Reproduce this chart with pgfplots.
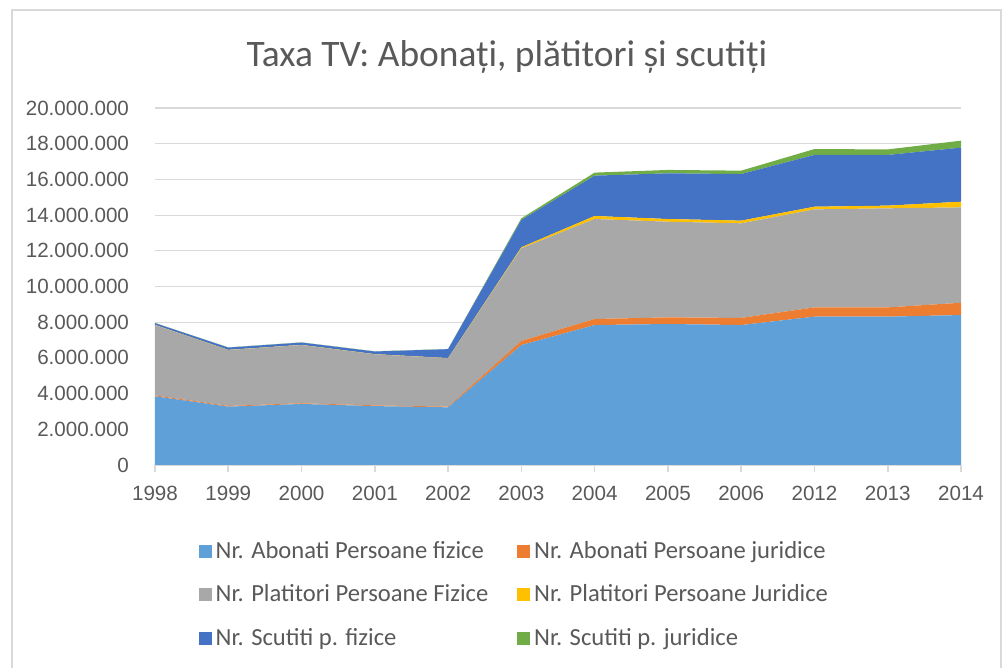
\documentclass[border=0pt]{standalone}
\usepackage{pgfplots}
\pgfplotsset{compat=1.18}
\usepackage{pgfplotstable}
\usepackage{fontspec}
\setmainfont{Carlito}
\newfontfamily\tickfont{Liberation Sans}
\definecolor{cAF}{HTML}{5FA0D8}
\definecolor{cAJ}{HTML}{ED7D31}
\definecolor{cPF}{HTML}{A8A8A8}
\definecolor{cPJ}{HTML}{FFC000}
\definecolor{cSF}{HTML}{4472C4}
\definecolor{cSJ}{HTML}{70AD47}
\definecolor{txt}{HTML}{595959}
\definecolor{gridc}{HTML}{D9D9D9}
\pgfplotstableread{
x AbF AbJ PlF PlJ ScF ScJ
0 3850000 50000 3940000 10000 100000 10000
1 3270000 40000 3130000 10000 130000 10000
2 3420000 40000 3260000 10000 130000 10000
3 3300000 40000 2860000 10000 150000 10000
4 3230000 40000 2710000 10000 500000 10000
5 6720000 230000 5190000 60000 1530000 90000
6 7840000 340000 5600000 170000 2260000 170000
7 7900000 370000 5360000 150000 2560000 190000
8 7840000 400000 5300000 150000 2610000 190000
9 8310000 520000 5490000 150000 2900000 330000
10 8310000 520000 5550000 150000 2840000 310000
11 8400000 690000 5340000 320000 3030000 390000
}\data
\begin{document}
\begin{tikzpicture}[x=1pt,y=1pt]
\useasboundingbox (-77.5,-101.5) rectangle (425.5,232.5);
\draw[gridc, line width=0.6pt] (-71.5,-101.5) -- (-71.5,227.5) -- (423,227.5) -- (423,-101.5);
\node[font=\fontsize{18.7}{22}\selectfont, text=txt] at (176,204) {Taxa TV: Abonați, plătitori și scutiți};
\begin{axis}[
  at={(0,0)}, anchor=south west,
  scale only axis, width=403pt, height=178.5pt,
  xmin=0, xmax=11, ymin=0, ymax=20000000,
  stack plots=y,
  xtick={0,...,11},
  xticklabels={1998,1999,2000,2001,2002,2003,2004,2005,2006,2012,2013,2014},
  ytick={0,2000000,...,20000000},
  scaled y ticks=false,
  yticklabel={\pgfmathprintnumber[fixed,1000 sep={.},assume math mode=true]{\tick}},
  separate axis lines,
  axis x line*=bottom, axis y line*=left,
  y axis line style={draw=none},
  x axis line style={gridc, line width=0.8pt, -},
  xmajorgrids=false, ymajorgrids=true,
  major grid style={draw=gridc, line width=0.6pt},
  tick align=outside,
  major tick length=3.5pt,
  xtick style={gridc, line width=0.8pt},
  ytick style={draw=none},
  tick label style={font=\tickfont\fontsize{10.3}{12}\selectfont, text=txt},
  xticklabel style={yshift=-3.5pt},
  yticklabel style={xshift=-6pt},
  legend columns=2,
  legend cell align=left,
  legend style={at={(0.0465,-0.19)}, anchor=north west, draw=none, fill=none,
    font=\fontsize{12.3}{14}\selectfont, text=txt,
    row sep=7.7pt,
    /tikz/every even column/.append style={column sep=12.5pt}},
  legend image code/.code={\fill[#1] (0pt,-3.2pt) rectangle (6.4pt,3.2pt);},
]
\addplot[fill=cAF, draw=none] table[x=x,y=AbF]{\data} \closedcycle;
\addlegendentry{Nr. Abonati Persoane fizice}
\addplot[fill=cAJ, draw=none] table[x=x,y=AbJ]{\data} \closedcycle;
\addlegendentry{Nr. Abonati Persoane juridice}
\addplot[fill=cPF, draw=none] table[x=x,y=PlF]{\data} \closedcycle;
\addlegendentry{Nr. Platitori Persoane Fizice}
\addplot[fill=cPJ, draw=none] table[x=x,y=PlJ]{\data} \closedcycle;
\addlegendentry{Nr. Platitori Persoane Juridice}
\addplot[fill=cSF, draw=none] table[x=x,y=ScF]{\data} \closedcycle;
\addlegendentry{Nr. Scutiti p. fizice}
\addplot[fill=cSJ, draw=none] table[x=x,y=ScJ]{\data} \closedcycle;
\addlegendentry{Nr. Scutiti p. juridice}
\end{axis}
\end{tikzpicture}
\end{document}
